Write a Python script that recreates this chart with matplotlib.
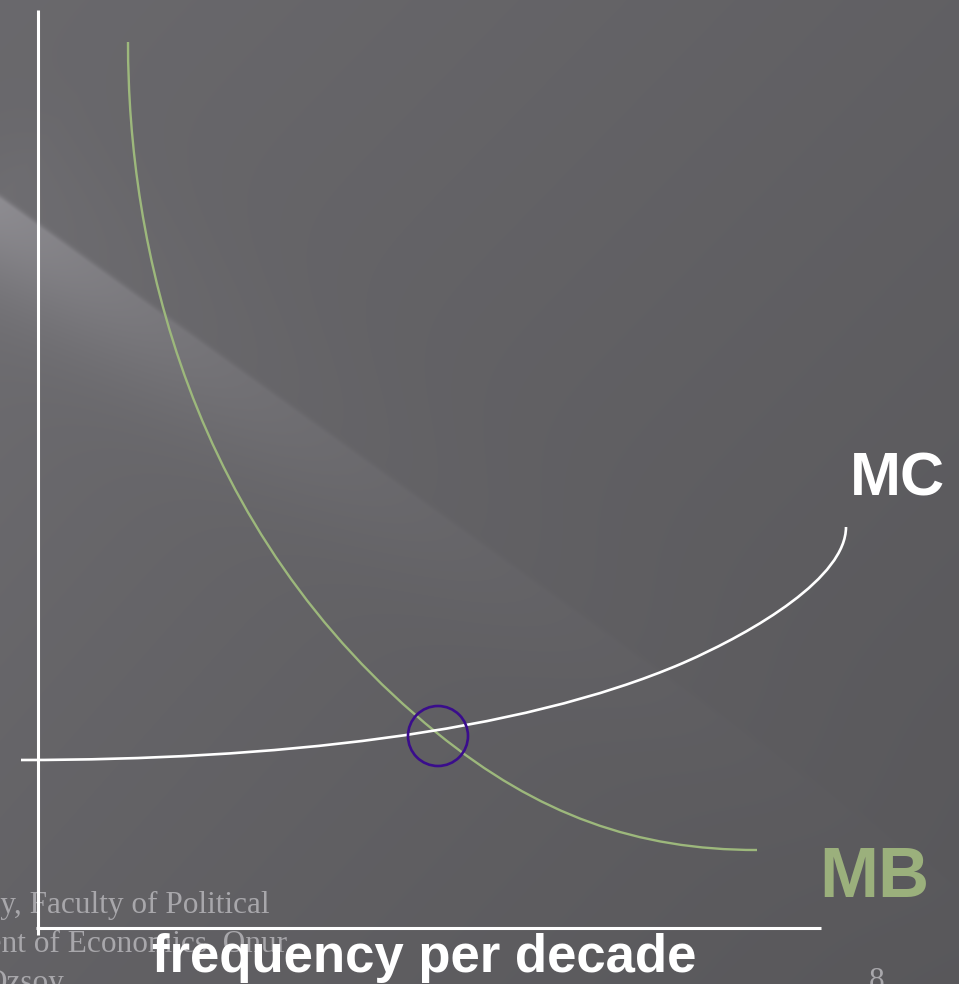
import numpy as np
import matplotlib
matplotlib.use("Agg")
import matplotlib.pyplot as plt
from matplotlib.patches import Circle, PathPatch
from matplotlib.path import Path

W, H = 959, 984

# Marginal benefit curve: cubic Bezier control points (slide pixels, y grows downward)
mb_x = [128, 128, 187, 437, 538, 637, 757]
mb_y = [42, 242, 531, 733, 815, 850, 850]

# Marginal cost curve: cubic Bezier control points
mc_x = [21, 271, 518, 683, 756, 846, 846]
mc_y = [760, 760, 734, 663, 631, 577, 527]

# Optimum marker
opt_x, opt_y, opt_r = 438, 736, 30

# Axes lines
yaxis_x, yaxis_top, yaxis_bottom = 38, 10, 935
xaxis_y, xaxis_left, xaxis_right = 928, 36, 821

curve_labels = ["MC", "MB"]
xlabel = "frequency per decade"
footer_lines = ["University, Faculty of Political",
                "Department of Economics, Onur",
                "Ozsoy"]
page_number = "8"


def bezier_path(xs, ys):
    codes = [Path.MOVETO] + [Path.CURVE4] * (len(xs) - 1)
    return Path(np.column_stack([xs, ys]), codes)


fig = plt.figure(figsize=(W / 100, H / 100), dpi=100)
ax = fig.add_axes([0, 0, 1, 1])
ax.set_xlim(0, W)
ax.set_ylim(H, 0)
ax.axis("off")

# Background: dark grey gradient with a light diagonal streak
yy, xx = np.mgrid[0:H, 0:W].astype(float)
diag = (xx / W + yy / H) / 2.0
base = 0.415 - 0.07 * diag
ux, uy = 0.811, 0.584
s = xx * ux + (yy - 200) * uy
t = -xx * uy + (yy - 200) * ux
below = np.exp(-(np.clip(t, 0, None) / 80.0) ** 2)
above = np.exp(-(np.clip(-t, 0, None) / 4.0) ** 2)
streak = np.where(t >= 0, below, above) * np.exp(-np.clip(s, 0, None) / 300.0)
streak *= np.clip((s + 40) / 40.0, 0, 1)
halo = np.exp(-(np.clip(-t, 0, None) / 90.0) ** 2) * np.exp(-np.clip(s, 0, None) / 400.0)
halo *= np.clip((s + 80) / 80.0, 0, 1)
val = base + 0.12 * streak + 0.025 * halo
img = np.dstack([val, val * 0.99, val * 1.025])
ax.imshow(np.clip(img, 0, 1), extent=[0, W, H, 0], aspect="auto",
          interpolation="bilinear", zorder=0)

# Axes
ax.plot([yaxis_x, yaxis_x], [yaxis_top, yaxis_bottom], color="white", lw=2.2,
        solid_capstyle="butt", zorder=3)
ax.plot([xaxis_left, xaxis_right], [xaxis_y, xaxis_y], color="white", lw=2.2,
        solid_capstyle="butt", zorder=3)

# Curves
ax.add_patch(PathPatch(bezier_path(mb_x, mb_y), fill=False, edgecolor="#9db87c",
                       lw=1.7, zorder=4))
ax.add_patch(PathPatch(bezier_path(mc_x, mc_y), fill=False, edgecolor="white",
                       lw=1.9, zorder=5))

ax.add_patch(Circle((opt_x, opt_y), opt_r, fill=False, edgecolor="#3a0d8c",
                    lw=1.9, zorder=6))

# Labels
ax.text(850, 495, curve_labels[0], color="white", fontsize=44, fontweight="bold",
        family="Liberation Sans", ha="left", va="baseline", zorder=7)
ax.text(819, 897, curve_labels[1], color="#9bb07c", fontsize=51, fontweight="bold",
        family="Liberation Sans", ha="left", va="baseline", zorder=7)

# Footer
for line, (xr, yb) in zip(footer_lines, [(270, 913), (287, 952), (64, 991)]):
    ax.text(xr, yb, line, color="#a8a7ab", fontsize=22.5, family="Liberation Serif",
            ha="right", va="baseline", zorder=2)
ax.text(877, 989, page_number, color="#a8a7ab", fontsize=22.5,
        family="Liberation Serif", ha="center", va="baseline", zorder=2)

ax.text(152, 972, xlabel, color="white", fontsize=38, fontweight="bold",
        family="Liberation Sans", ha="left", va="baseline", zorder=8)

fig.savefig("out.png", dpi=100)
